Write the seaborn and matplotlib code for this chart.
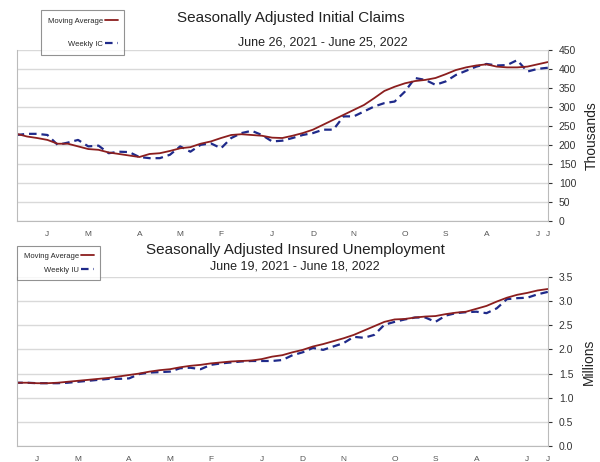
import numpy as np
import pandas as pd
import matplotlib
matplotlib.use("Agg")
import matplotlib.pyplot as plt
import seaborn as sns

# Weekly values, oldest first (chart is drawn right-to-left, as in the reference)
ic_moving_avg = [418, 412, 406, 404, 404, 406, 412, 409, 404, 397, 386, 376, 371, 368,
                 362, 353, 342, 323, 305, 292, 279, 266, 253, 240, 231, 224, 218,
                 219, 224, 226, 228, 226, 218, 209, 203, 194, 191, 184, 178, 176, 168,
                 172, 176, 180, 187, 189, 196, 203, 203, 213, 218, 222, 229]
ic_weekly = [403, 400, 393, 423, 410, 409, 413, 406, 395, 384, 367, 358, 371, 376,
             340, 314, 310, 301, 288, 275, 275, 240, 240, 231, 226, 218, 211,
             209, 226, 237, 231, 218, 191, 204, 200, 182, 196, 174, 165, 165, 168,
             181, 182, 178, 198, 196, 213, 206, 200, 226, 229, 229, 226]

iu_moving_avg = [3.25, 3.22, 3.17, 3.13, 3.07, 2.99, 2.90, 2.84, 2.78, 2.76, 2.73, 2.69,
                 2.68, 2.66, 2.63, 2.62, 2.57, 2.48, 2.39, 2.30, 2.23, 2.17, 2.11, 2.06,
                 1.99, 1.94, 1.88,
                 1.85, 1.80, 1.77, 1.76, 1.75, 1.73, 1.71, 1.68, 1.66, 1.63, 1.59, 1.57,
                 1.54, 1.50, 1.47, 1.44, 1.41, 1.39, 1.37, 1.35, 1.33, 1.31, 1.30, 1.30,
                 1.31, 1.31]
iu_weekly = [3.19, 3.14, 3.07, 3.06, 3.04, 2.85, 2.75, 2.78, 2.77, 2.75, 2.70, 2.57,
             2.66, 2.66, 2.62, 2.57, 2.51, 2.30, 2.24, 2.26, 2.13, 2.06, 1.99, 2.03,
             1.94, 1.88, 1.78,
             1.76, 1.76, 1.76, 1.75, 1.73, 1.71, 1.68, 1.59, 1.62, 1.61, 1.54, 1.53,
             1.52, 1.49, 1.40, 1.39, 1.39, 1.37, 1.35, 1.33, 1.31, 1.30, 1.30, 1.30,
             1.31, 1.31]

ic_start = "2021-06-26"
iu_start = "2021-06-19"

MA_COLOR = "#8B1E1E"
WK_COLOR = "#1F2A8A"
GRID = "#D9D9D9"

sns.set_style("white")
plt.rcParams["font.family"] = ["Liberation Sans", "DejaVu Sans"]

fig = plt.figure(figsize=(6, 4.62), dpi=100)
ax1 = fig.add_axes([0.028, 0.522, 0.885, 0.370])
ax2 = fig.add_axes([0.028, 0.0346, 0.885, 0.366])


def draw(ax, start, ma, wk, wk_label, ymax, ystep, fmt, ylabel):
    dates = pd.date_range(start, periods=len(ma), freq="7D")
    df = pd.DataFrame({"week": np.arange(len(ma)), "ma": ma, "wk": wk})
    sns.lineplot(data=df, x="week", y="wk", ax=ax, color=WK_COLOR, lw=1.6,
                 dashes=False, linestyle=(0, (3.4, 2.2)), label=wk_label)
    sns.lineplot(data=df, x="week", y="ma", ax=ax, color=MA_COLOR, lw=1.3,
                 label="Moving Average")
    ax.set_xlim(len(ma) - 1, 0)
    ax.set_ylim(0, ymax)
    yt = np.arange(0, ymax + ystep / 2, ystep)
    ax.set_yticks(yt)
    ax.set_yticklabels([fmt.format(v) for v in yt])
    ax.yaxis.tick_right()
    ax.yaxis.set_label_position("right")
    ax.set_ylabel(ylabel, fontsize=10, color="#222222", labelpad=6)
    ax.tick_params(axis="y", labelsize=7.5, colors="#333333", length=3, pad=5)
    ax.grid(axis="y", color=GRID, lw=1)
    ax.set_axisbelow(True)

    # label the first week of each month
    pos = [0] + [i for i in range(1, len(dates)) if dates[i].month != dates[i - 1].month]
    ax.set_xticks(pos)
    ax.set_xticklabels([dates[i].strftime("%B")[0] for i in pos])
    ax.set_xticks(np.arange(len(dates)), minor=True)
    ax.tick_params(axis="x", which="major", labelsize=6, colors="#555555", length=3, pad=4)
    ax.tick_params(axis="x", which="minor", length=2, color="#AAAAAA")
    ax.set_xlabel("")
    for side in ["left", "right", "bottom"]:
        ax.spines[side].set_color("#BBBBBB")
    ax.spines["top"].set_visible(False)
    ax.get_legend().remove()


draw(ax1, ic_start, ic_moving_avg, ic_weekly, "Weekly IC", 450, 50, "{:.0f}", "Thousands")
draw(ax2, iu_start, iu_moving_avg, iu_weekly, "Weekly IU", 3.5, 0.5, "{:.1f}", "Millions")

fig.text(0.485, 0.960, "Seasonally Adjusted Initial Claims", ha="center", va="center",
         fontsize=11, color="#222222")
fig.text(0.538, 0.908, "June 26, 2021 - June 25, 2022", ha="center", va="center",
         fontsize=9, color="#222222")
fig.text(0.493, 0.459, "Seasonally Adjusted Insured Unemployment", ha="center", va="center",
         fontsize=11, color="#222222")
fig.text(0.492, 0.424, "June 19, 2021 - June 18, 2022", ha="center", va="center",
         fontsize=9, color="#222222")

for ax, anchor, spacing in [(ax1, (0.062, 0.986), 2.1), (ax2, (0.022, 0.476), 0.8)]:
    h, l = ax.get_legend_handles_labels()
    leg = fig.legend(h[::-1], l[::-1], loc="upper left", bbox_to_anchor=anchor,
                     fontsize=5.5, markerfirst=False, frameon=True, fancybox=False,
                     handlelength=1.6, labelspacing=spacing, borderpad=0.9,
                     handletextpad=0.3)
    leg.get_frame().set_edgecolor("#777777")
    leg.get_frame().set_linewidth(0.8)

fig.savefig("out.png", dpi=100)
